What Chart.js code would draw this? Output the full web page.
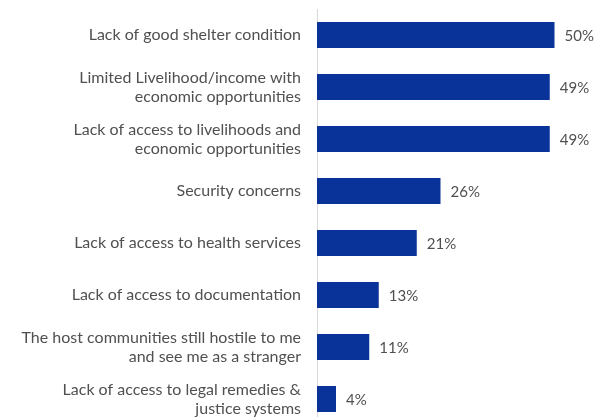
<!DOCTYPE html>
<html>
<head>
<meta charset="utf-8">
<script src="https://cdn.jsdelivr.net/npm/chart.js@4"></script>
<style>
  html, body { margin: 0; padding: 0; overflow: hidden; background: #ffffff; }
  #wrap { position: relative; width: 601px; height: 425px; }
</style>
</head>
<body>
<div id="wrap"><canvas id="chart"></canvas></div>
<script>
// Reported challenges (share of respondents, %)
const categories = [
  ["Lack of good shelter condition"],
  ["Limited Livelihood/income with", "economic opportunities"],
  ["Lack of access to livelihoods and", "economic opportunities"],
  ["Security concerns"],
  ["Lack of access to health services"],
  ["Lack of access to documentation"],
  ["The host communities still hostile to me", "and see me as a stranger"],
  ["Lack of access to legal remedies &", "justice systems"]
];
const values = [50, 49, 49, 26, 21, 13, 11, 4];

const textColor = '#505050';
const fontFamily = 'Lato, "Open Sans", sans-serif';

// Writes the percentage just past the end of each bar
const valueLabels = {
  id: 'valueLabels',
  afterDatasetsDraw(chart) {
    const ctx = chart.ctx;
    const meta = chart.getDatasetMeta(0);
    ctx.save();
    ctx.font = '15px ' + fontFamily;
    ctx.fillStyle = textColor;
    ctx.textAlign = 'left';
    ctx.textBaseline = 'middle';
    meta.data.forEach((bar, i) => {
      ctx.fillText(values[i] + '%', bar.x + 10, bar.y + 1);
    });
    ctx.restore();
  }
};

new Chart(document.getElementById('chart'), {
  type: 'bar',
  data: {
    labels: categories,
    datasets: [{
      data: values,
      backgroundColor: '#0a3399',
      borderWidth: 0,
      barPercentage: 0.5,
      categoryPercentage: 1.0
    }]
  },
  options: {
    indexAxis: 'y',
    responsive: true,
    maintainAspectRatio: false,
    animation: false,
    layout: { padding: { top: 9, right: 18, bottom: 0, left: 0 } },
    plugins: {
      legend: { display: false },
      tooltip: { enabled: false }
    },
    scales: {
      x: {
        display: false,
        min: 0,
        max: 56
      },
      y: {
        afterFit(scale) {
          scale.width = 317;
          scale.paddingTop = 0;
          scale.paddingBottom = 0;
        },
        grid: { display: false, drawTicks: false },
        border: { display: true, color: '#d9d9d9', width: 1 },
        ticks: {
          padding: 16,
          color: textColor,
          font: { family: fontFamily, size: 16, lineHeight: 1.2 }
        }
      }
    }
  },
  plugins: [valueLabels]
});
</script>
</body>
</html>
